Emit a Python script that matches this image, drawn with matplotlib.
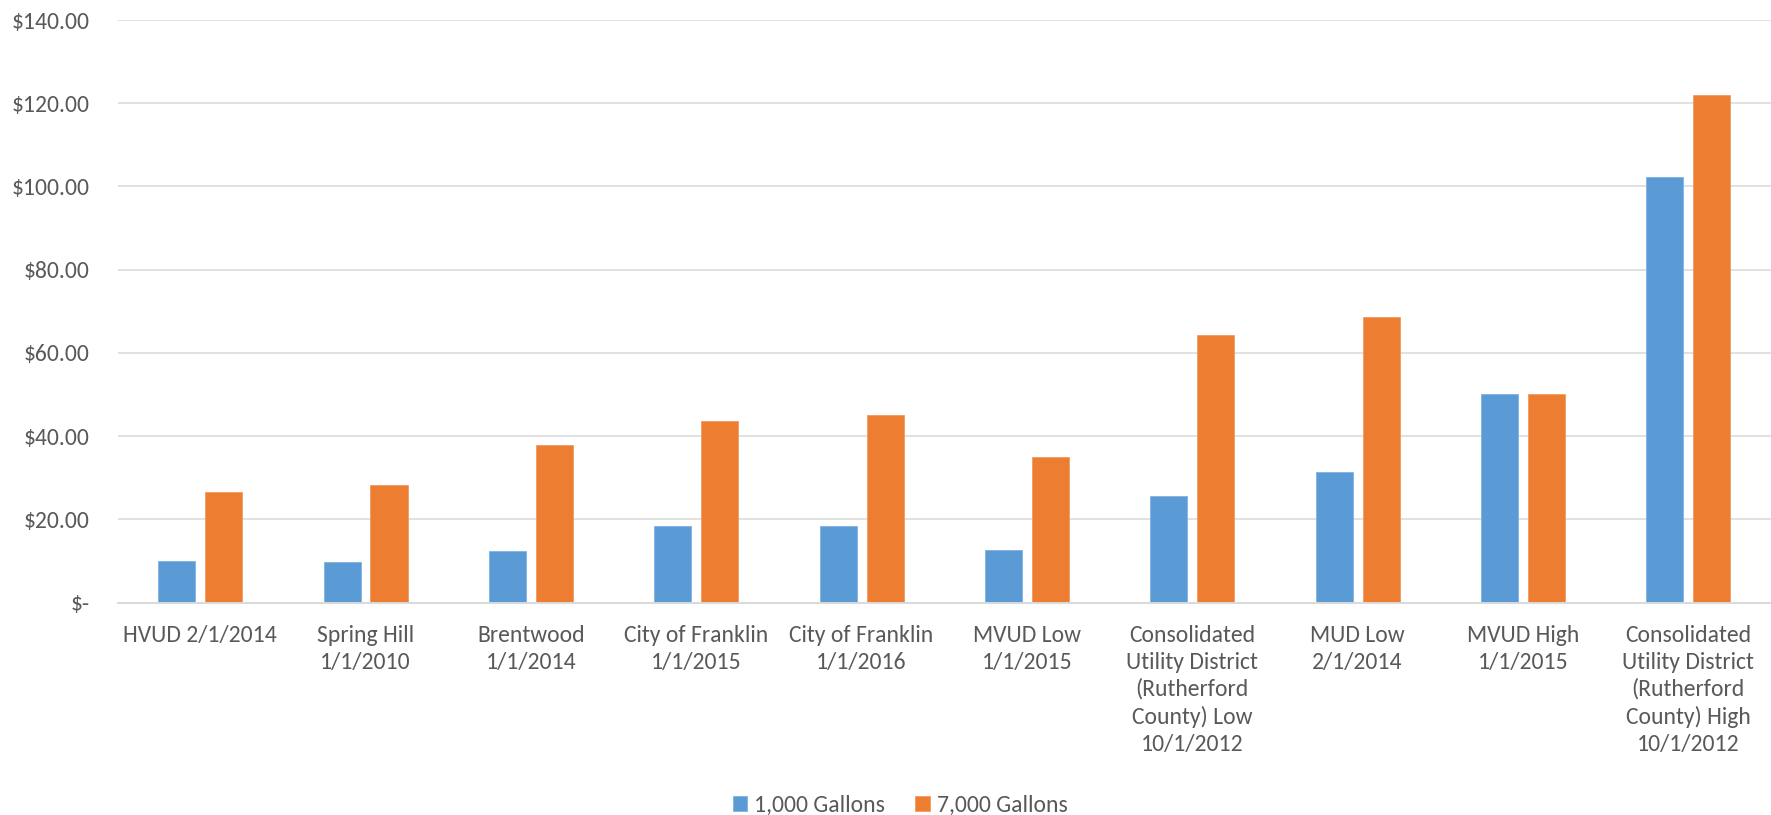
import matplotlib
matplotlib.use("Agg")
import matplotlib.pyplot as plt
from matplotlib import font_manager
import numpy as np

categories = [
    "HVUD 2/1/2014",
    "Spring Hill\n1/1/2010",
    "Brentwood\n1/1/2014",
    "City of Franklin\n1/1/2015",
    "City of Franklin\n1/1/2016",
    "MVUD Low\n1/1/2015",
    "Consolidated\nUtility District\n(Rutherford\nCounty) Low\n10/1/2012",
    "MUD Low\n2/1/2014",
    "MVUD High\n1/1/2015",
    "Consolidated\nUtility District\n(Rutherford\nCounty) High\n10/1/2012",
]
gallons_1000 = [10.0, 9.8, 12.4, 18.5, 18.5, 12.5, 25.5, 31.3, 50.0, 102.2]
gallons_7000 = [26.6, 28.2, 37.9, 43.7, 45.1, 34.9, 64.2, 68.6, 50.0, 122.0]
series_labels = ["1,000 Gallons", "7,000 Gallons"]
yticks = [0, 20, 40, 60, 80, 100, 120, 140]
ytick_labels = ["$-", "$20.00", "$40.00", "$60.00", "$80.00", "$100.00", "$120.00", "$140.00"]

available = {f.name for f in font_manager.fontManager.ttflist}
family = "DejaVu Sans"
for cand in ["Carlito", "Liberation Sans Narrow", "Lato", "Open Sans"]:
    if cand in available:
        family = cand
        break
plt.rcParams["font.family"] = [family, "DejaVu Sans"]

narrow = family in ("Carlito",)
fs = 17 if narrow else 15.5
fs_y = 17 if narrow else 16.5

text_color = "#595959"
grid_color = "#D9D9D9"
blue = "#5B9BD5"
orange = "#ED7D31"

fig = plt.figure(figsize=(17.71, 8.15), dpi=100)
ax = fig.add_axes([117.5 / 1771, 212.5 / 815, (1771 - 117.5) / 1771, (603 - 20.5) / 815])

x = np.arange(len(categories))
w = 0.224
off = 0.142
ax.bar(x - off, gallons_1000, width=w, color=blue, label=series_labels[0], zorder=3,
       edgecolor="#7FB2E0", linewidth=0.6)
ax.bar(x + off, gallons_7000, width=w, color=orange, label=series_labels[1], zorder=3,
       edgecolor="#F29A63", linewidth=0.6)

ax.set_xlim(-0.5, len(categories) - 0.5)
ax.set_ylim(0, 140)
ax.set_yticks(yticks)
ax.set_yticklabels(ytick_labels)
ax.set_xticks(x)
ax.set_xticklabels(categories, linespacing=1.34)

ax.yaxis.grid(True, color=grid_color, linewidth=1.1, zorder=0)
ax.set_axisbelow(True)
for s in ["top", "right", "left"]:
    ax.spines[s].set_visible(False)
ax.spines["bottom"].set_color(grid_color)
ax.spines["bottom"].set_linewidth(1.4)
ax.spines["bottom"].set_zorder(4)

ax.tick_params(axis="both", length=0, labelcolor=text_color)
ax.tick_params(axis="x", pad=16, labelsize=fs)
ax.tick_params(axis="y", pad=20, labelsize=fs_y)

handles, labels = ax.get_legend_handles_labels()
leg = fig.legend(handles, labels, loc="center", bbox_to_anchor=(900 / 1771, 1 - 805 / 815),
                 ncol=2, frameon=False, fontsize=fs, handlelength=0.6, handleheight=0.6,
                 handletextpad=0.3, columnspacing=1.3, labelcolor=text_color)

fig.savefig("out.png", dpi=100)
